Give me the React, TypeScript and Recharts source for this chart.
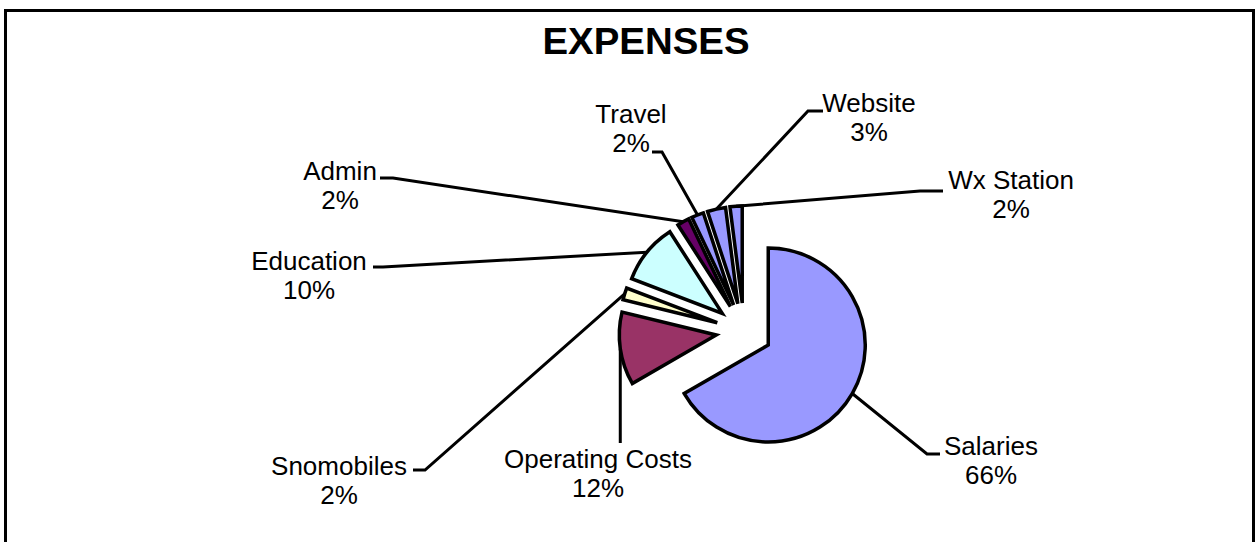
import React from "react";
import { PieChart, Pie, Cell } from "recharts";

const categories = [
  "Salaries",
  "Operating Costs",
  "Snomobiles",
  "Education",
  "Admin",
  "Travel",
  "Website",
  "Wx Station",
];
const amounts = [66, 12, 2, 10, 2, 2, 3, 2];
const percentLabels = ["66%", "12%", "2%", "10%", "2%", "2%", "3%", "2%"];

const sliceColors = [
  "#9999FF",
  "#993366",
  "#FFFFCC",
  "#CCFFFF",
  "#660066",
  "#9999FF",
  "#9999FF",
  "#9999FF",
];

// where each label sits and how its leader line bends (page px)
const labelLayout = [
  { x: 991, y: 455, elbow: [927, 454], end: [940, 454] },
  { x: 598, y: 468, elbow: null, end: [0, 443] },
  { x: 339, y: 475, elbow: [425, 470], end: [413, 470] },
  { x: 309, y: 270, elbow: [383, 267], end: [373, 267] },
  { x: 340, y: 180, elbow: [393, 178], end: [380, 178] },
  { x: 631, y: 123, elbow: [662, 152], end: [652, 152] },
  { x: 869, y: 112, elbow: [808, 111], end: [823, 111] },
  { x: 1011, y: 189, elbow: [920, 191], end: [943, 191] },
];

const CENTER_X = 744;
const CENTER_Y = 331;
const RADIUS = 97;
const EXPLODE = 28;
const RAD = Math.PI / 180;
const FONT = "'Liberation Sans', Arial, sans-serif";

const data = categories.map((name, i) => ({ name, value: amounts[i] }));
const total = amounts.reduce((a, b) => a + b, 0);

let acc = 0;
const midAngles = amounts.map((v) => {
  const mid = 90 - ((acc + v / 2) / total) * 360;
  acc += v;
  return mid;
});

const renderLabel = (slice: number) => (props: any) => {
  if (props.index !== slice) return <g />;
  const layout = labelLayout[slice];
  const sx = props.cx + props.outerRadius * Math.cos(-props.midAngle * RAD);
  const sy = props.cy + props.outerRadius * Math.sin(-props.midAngle * RAD);
  let points: number[][];
  if (layout.elbow) {
    points = [[sx, sy], layout.elbow, layout.end];
  } else {
    points = [
      [sx, sy],
      [sx, layout.end[1]],
    ];
  }
  return (
    <g>
      <polyline
        points={points.map((p) => p.join(",")).join(" ")}
        fill="none"
        stroke="#000"
        strokeWidth={3}
      />
      <text
        x={layout.x}
        y={layout.y}
        textAnchor="middle"
        fontFamily={FONT}
        fontSize={26}
        fill="#000"
      >
        {categories[slice]}
      </text>
      <text
        x={layout.x}
        y={layout.y + 29}
        textAnchor="middle"
        fontFamily={FONT}
        fontSize={26}
        fill="#000"
      >
        {percentLabels[slice]}
      </text>
    </g>
  );
};

const App: React.FC = () => {
  return (
    <div
      style={{
        position: "absolute",
        left: 0,
        top: 0,
        width: 1256,
        height: 542,
        background: "#fff",
        overflow: "hidden",
      }}
    >
      <svg
        width={1256}
        height={542}
        style={{ position: "absolute", left: 0, top: 0 }}
      >
        <rect
          x={5.5}
          y={10.5}
          width={1248}
          height={600}
          fill="#fff"
          stroke="#000"
          strokeWidth={3}
        />
        <text
          x={646}
          y={54}
          textAnchor="middle"
          fontFamily={FONT}
          fontWeight="bold"
          fontSize={36}
          textLength={207}
          lengthAdjust="spacingAndGlyphs"
          fill="#000"
        >
          EXPENSES
        </text>
      </svg>
      <div style={{ position: "absolute", left: 0, top: 0 }}>
        <PieChart
          width={1256}
          height={542}
          margin={{ top: 0, right: 0, bottom: 0, left: 0 }}
        >
          {data.map((entry, i) => (
            <Pie
              key={entry.name}
              data={data}
              dataKey="value"
              nameKey="name"
              cx={CENTER_X + EXPLODE * Math.cos(midAngles[i] * RAD)}
              cy={CENTER_Y - EXPLODE * Math.sin(midAngles[i] * RAD)}
              outerRadius={RADIUS}
              startAngle={90}
              endAngle={-270}
              strokeWidth={3.5}
              isAnimationActive={false}
              labelLine={false}
              label={renderLabel(i)}
            >
              {data.map((d, j) => (
                <Cell
                  key={d.name}
                  fill={j === i ? sliceColors[j] : "none"}
                  stroke={j === i ? "#000" : "none"}
                  strokeWidth={3.5}
                />
              ))}
            </Pie>
          ))}
        </PieChart>
      </div>
    </div>
  );
};

export default App;
